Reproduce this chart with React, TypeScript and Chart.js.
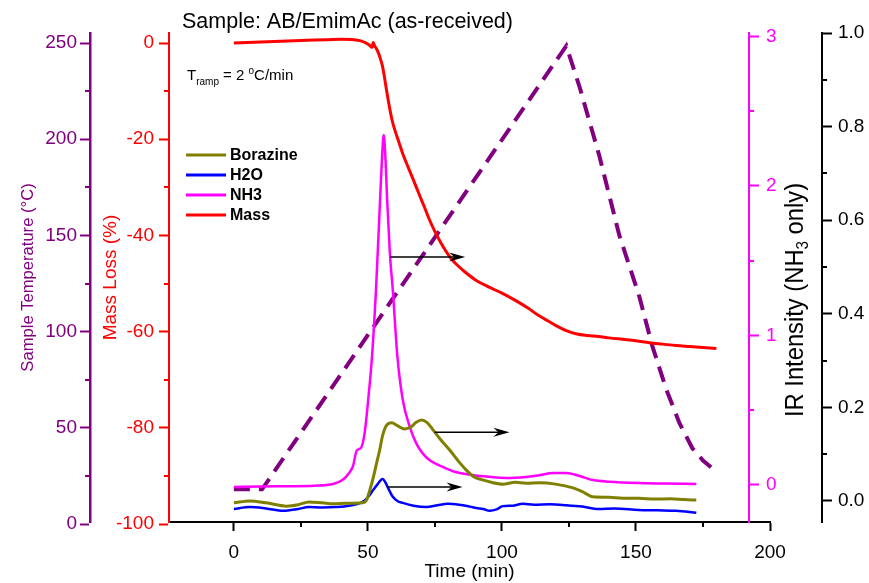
import React, { useEffect, useRef } from 'react';
import { Chart, registerables } from 'chart.js';

Chart.register(...registerables);

const FONT = '"Liberation Sans", Arial, Helvetica, sans-serif';

const PURPLE = '#800080';
const RED = '#ff0000';
const MAGENTA = '#ff00ff';
const OLIVE = '#808000';
const BLUE = '#0000ff';
const BLACK = '#000000';
const CLEAR = 'rgba(0,0,0,0)';

// ---- texts ----
const chartTitle = 'Sample: AB/EmimAc (as-received)';
const xTitle = 'Time (min)';
const tempTitle = 'Sample Temperature (°C)';
const massTitle = 'Mass Loss (%)';
const legendLabels = ['Borazine', 'H2O', 'NH3', 'Mass'];

// ---- tick lists ----
const xTicks = [0, 25, 50, 75, 100, 125, 150, 175, 200];
const tempTicks = [0, 25, 50, 75, 100, 125, 150, 175, 200, 225, 250];
const massTicks = [-100, -90, -80, -70, -60, -50, -40, -30, -20, -10, 0];
const nh3Ticks = [0, 0.5, 1, 1.5, 2, 2.5, 3];
const irTicks = [0, 0.1, 0.2, 0.3, 0.4, 0.5, 0.6, 0.7, 0.8, 0.9, 1.0];

// ---- Mass (%) ----
const massTime = [0, 5, 10, 15, 20, 25, 30, 35, 40, 44, 47, 49, 50.5, 51.5, 52, 52.5, 53.2, 54, 54.6, 55.3, 56, 57, 58, 59, 60, 61.5, 63, 65, 67, 69, 71, 73, 75, 77, 79, 81, 83, 86, 90, 95, 100, 105, 110, 113, 116, 120, 124, 128, 132, 136, 140, 145, 150, 155, 160, 165, 170, 175, 180];
const massValue = [0, 0.1, 0.2, 0.3, 0.4, 0.5, 0.6, 0.7, 0.8, 0.75, 0.5, 0.1, -0.4, -0.9, 0.1, -0.6, -1.2, -2.2, -3.2, -4.5, -6.5, -10, -13.2, -16, -18, -20.5, -23, -25.8, -28.5, -31.3, -34, -36.8, -39.2, -41.3, -43.2, -44.8, -46, -47.5, -49.2, -50.7, -52, -53.5, -55.2, -56.4, -57.4, -58.7, -59.8, -60.5, -60.8, -61, -61.3, -61.6, -61.9, -62.3, -62.6, -62.9, -63.1, -63.3, -63.5];

// ---- Sample temperature (°C) ----
const tempTime = [0, 10.5, 124, 129, 136.4, 143.8, 151.3, 156, 161.3, 166.2, 171, 175, 178];
const tempValue = [18, 18, 248.5, 227, 191, 150, 118, 93, 70, 52.5, 39.5, 33, 29.5];

// ---- NH3 IR intensity ----
const nh3Time = [0, 10, 20, 30, 37, 40.5, 43, 44.5, 45.8, 47.5, 48.8, 50, 51.5, 53, 54.4, 55.3, 55.9, 56.5, 57.2, 58.2, 59.3, 61, 63, 65.6, 68, 70.5, 73.5, 76.8, 82, 89, 95, 101.6, 109, 114, 119, 124, 129, 134, 140, 151, 160, 172.5];
const nh3Value = [-0.013, -0.01, -0.008, -0.005, 0.007, 0.033, 0.08, 0.13, 0.23, 0.25, 0.35, 0.55, 0.85, 1.3, 1.85, 2.2, 2.34, 2.2, 1.9, 1.55, 1.3, 0.86, 0.57, 0.39, 0.28, 0.21, 0.16, 0.13, 0.09, 0.067, 0.055, 0.047, 0.054, 0.065, 0.08, 0.08, 0.06, 0.033, 0.022, 0.013, 0.01, 0.007];

// ---- Borazine IR intensity ----
const borTime = [0, 6, 12, 19.7, 24, 28, 33, 37, 42, 48, 49.5, 50.7, 52, 53.2, 54.4, 55.5, 57, 58.9, 61, 63.7, 66, 68, 70, 72, 74.3, 77, 80.5, 83.5, 86.7, 89.5, 92.8, 96, 100.3, 105, 109, 114, 120, 126.5, 130, 133.8, 140, 145, 151, 157, 163, 168, 172.5];
const borValue = [-0.004, 0, -0.004, -0.011, -0.008, -0.002, -0.004, -0.006, -0.005, -0.004, 0.002, 0.023, 0.05, 0.08, 0.109, 0.14, 0.162, 0.167, 0.161, 0.154, 0.158, 0.168, 0.173, 0.168, 0.152, 0.132, 0.109, 0.087, 0.066, 0.052, 0.045, 0.04, 0.036, 0.04, 0.038, 0.039, 0.036, 0.028, 0.02, 0.009, 0.008, 0.006, 0.006, 0.004, 0.005, 0.003, 0.002];

// ---- H2O IR intensity ----
const h2oTime = [0, 6, 12, 18.4, 24, 28, 33, 38, 43, 48, 50, 51.9, 53.5, 55.5, 56.5, 57.5, 59.3, 61, 63, 67, 71.8, 76, 79.8, 84, 88, 90.5, 93, 95.4, 98, 100.3, 104, 107.7, 112, 118, 124, 130, 136, 142, 151, 158, 165, 172.5];
const h2oValue = [-0.017, -0.013, -0.016, -0.021, -0.017, -0.013, -0.014, -0.013, -0.01, -0.002, 0.008, 0.023, 0.035, 0.047, 0.04, 0.028, 0.009, 0.0, -0.004, -0.01, -0.013, -0.009, -0.006, -0.008, -0.012, -0.015, -0.017, -0.021, -0.018, -0.011, -0.01, -0.006, -0.008, -0.007, -0.009, -0.012, -0.017, -0.016, -0.019, -0.02, -0.021, -0.025];

// ---- arrows (axis pointers) ----
const arrowFrom = [58.4, 74.9, 57.4];
const arrowTo = [86.3, 102.8, 85.3];
const arrowLevel = [1.525, 0.147, 0.03];
const arrowAxis = ['yNH3', 'yIR', 'yIR'];

const xMinor = (v: number) => v % 50 !== 0;
const tMinor = (v: number) => v % 50 !== 0;
const mMinor = (v: number) => v % 20 !== 0;
const nMinor = (v: number) => !Number.isInteger(v);
const iMinor = (v: number) => Math.round(v * 10) % 2 !== 0;

const minorSpec: { id: string; list: number[]; isMinor: (v: number) => boolean; color: string }[] = [
  { id: 'x', list: xTicks, isMinor: xMinor, color: BLACK },
  { id: 'yTemp', list: tempTicks, isMinor: tMinor, color: PURPLE },
  { id: 'yMass', list: massTicks, isMinor: mMinor, color: RED },
  { id: 'yNH3', list: nh3Ticks, isMinor: nMinor, color: MAGENTA },
  { id: 'yIR', list: irTicks, isMinor: iMinor, color: BLACK },
];

const pts = (xs: number[], ys: number[]) => xs.map((x, i) => ({ x, y: ys[i] }));

const extendX = {
  id: 'extendX',
  afterLayout(chart: any) {
    const xs = chart.scales.x;
    xs.right = xs.right + 21;
    xs.width = xs.right - xs.left;
    xs.configure();
  },
};

// short (minor) tick marks, positioned by each scale
const minorTicks = {
  id: 'minorTicks',
  afterDraw(chart: any) {
    const { ctx } = chart;
    ctx.save();
    ctx.lineWidth = 2;
    ctx.setLineDash([]);
    minorSpec.forEach((spec) => {
      const s = chart.scales[spec.id];
      ctx.strokeStyle = spec.color;
      spec.list.filter(spec.isMinor).forEach((v) => {
        const p = Math.round(s.getPixelForValue(v));
        ctx.beginPath();
        if (spec.id === 'x') {
          ctx.moveTo(p, s.top);
          ctx.lineTo(p, s.top + 5);
        } else if (s.position === 'left') {
          ctx.moveTo(s.right - 5, p);
          ctx.lineTo(s.right, p);
        } else {
          ctx.moveTo(s.left, p);
          ctx.lineTo(s.left + 5, p);
        }
        ctx.stroke();
      });
    });
    ctx.restore();
  },
};

const decorations = {
  id: 'decorations',
  afterDraw(chart: any) {
    const { ctx } = chart;
    ctx.save();
    ctx.fillStyle = BLACK;
    ctx.textAlign = 'left';
    ctx.textBaseline = 'alphabetic';

    // chart title
    ctx.font = `21.5px ${FONT}`;
    ctx.fillText(chartTitle, 182, 28);

    // T_ramp annotation
    let x = 187;
    const by = 80;
    ctx.font = `15px ${FONT}`;
    ctx.fillText('T', x, by);
    x += ctx.measureText('T').width;
    ctx.font = `10px ${FONT}`;
    ctx.fillText('ramp', x, by + 5);
    x += ctx.measureText('ramp').width;
    ctx.font = `15px ${FONT}`;
    ctx.fillText(' = 2 ', x, by);
    x += ctx.measureText(' = 2 ').width;
    ctx.font = `10px ${FONT}`;
    ctx.fillText('o', x, by - 6);
    x += ctx.measureText('o').width;
    ctx.font = `15px ${FONT}`;
    ctx.fillText('C/min', x, by);

    // legend
    legendLabels.forEach((label, i) => {
      const ds = chart.data.datasets.find((d: any) => d.label === label);
      const y = 155 + i * 20;
      ctx.strokeStyle = ds ? ds.borderColor : BLACK;
      ctx.lineWidth = 3;
      ctx.setLineDash([]);
      ctx.beginPath();
      ctx.moveTo(186, y);
      ctx.lineTo(226, y);
      ctx.stroke();
      ctx.font = `bold 16px ${FONT}`;
      ctx.textBaseline = 'middle';
      ctx.fillStyle = BLACK;
      ctx.fillText(label, 230, y + 1);
    });

    // arrows
    const xs = chart.scales.x;
    arrowFrom.forEach((t0, i) => {
      const ys = chart.scales[arrowAxis[i]];
      const x0 = xs.getPixelForValue(t0);
      const x1 = xs.getPixelForValue(arrowTo[i]);
      const y = ys.getPixelForValue(arrowLevel[i]);
      ctx.strokeStyle = BLACK;
      ctx.fillStyle = BLACK;
      ctx.lineWidth = 1.6;
      ctx.beginPath();
      ctx.moveTo(x0, y);
      ctx.lineTo(x1 - 8, y);
      ctx.stroke();
      ctx.beginPath();
      ctx.moveTo(x1, y);
      ctx.lineTo(x1 - 16, y - 4.5);
      ctx.lineTo(x1 - 11, y);
      ctx.lineTo(x1 - 16, y + 4.5);
      ctx.closePath();
      ctx.fill();
    });

    // right axis title (rotated, with subscript)
    ctx.translate(794, 300);
    ctx.rotate(-Math.PI / 2);
    ctx.scale(0.95, 1);
    ctx.fillStyle = BLACK;
    ctx.textBaseline = 'alphabetic';
    const big = `25px ${FONT}`;
    const small = `16px ${FONT}`;
    const p1 = 'IR Intensity (NH';
    const p2 = '3';
    const p3 = ' only)';
    ctx.font = big;
    const w1 = ctx.measureText(p1).width;
    const w3 = ctx.measureText(p3).width;
    ctx.font = small;
    const w2 = ctx.measureText(p2).width;
    let tx = -(w1 + w2 + w3) / 2;
    ctx.font = big;
    ctx.fillText(p1, tx, 9);
    tx += w1;
    ctx.font = small;
    ctx.fillText(p2, tx, 14);
    tx += w2;
    ctx.font = big;
    ctx.fillText(p3, tx, 9);
    ctx.restore();
  },
};

const setTicks = (list: number[]) => (scale: any) => {
  scale.ticks = list.map((v) => ({ value: v }));
};

const majorColor = (isMinor: (v: number) => boolean, color: string) => (c: any) =>
  c.tick && isMinor(c.tick.value) ? CLEAR : color;

export default function App() {
  const canvasRef = useRef<HTMLCanvasElement | null>(null);

  useEffect(() => {
    const canvas = canvasRef.current;
    if (!canvas) return;

    const chart = new Chart(canvas, {
      type: 'line',
      data: {
        datasets: [
          {
            label: 'Borazine',
            data: pts(borTime, borValue),
            borderColor: OLIVE,
            backgroundColor: OLIVE,
            borderWidth: 3,
            pointRadius: 0,
            cubicInterpolationMode: 'monotone',
            yAxisID: 'yIR',
          },
          {
            label: 'H2O',
            data: pts(h2oTime, h2oValue),
            borderColor: BLUE,
            backgroundColor: BLUE,
            borderWidth: 2.5,
            pointRadius: 0,
            cubicInterpolationMode: 'monotone',
            yAxisID: 'yIR',
          },
          {
            label: 'NH3',
            data: pts(nh3Time, nh3Value),
            borderColor: MAGENTA,
            backgroundColor: MAGENTA,
            borderWidth: 2.5,
            pointRadius: 0,
            cubicInterpolationMode: 'monotone',
            yAxisID: 'yNH3',
          },
          {
            label: 'Mass',
            data: pts(massTime, massValue),
            borderColor: RED,
            backgroundColor: RED,
            borderWidth: 3,
            pointRadius: 0,
            cubicInterpolationMode: 'monotone',
            yAxisID: 'yMass',
          },
          {
            label: 'Temperature',
            data: pts(tempTime, tempValue),
            borderColor: PURPLE,
            backgroundColor: PURPLE,
            borderWidth: 4,
            borderDash: [16, 9],
            pointRadius: 0,
            tension: 0,
            yAxisID: 'yTemp',
          },
        ],
      },
      options: {
        responsive: false,
        animation: false,
        devicePixelRatio: 1,
        events: [],
        layout: { padding: { top: 33, left: 0, right: 0, bottom: 0 } },
        plugins: {
          legend: { display: false },
          title: { display: false },
          tooltip: { enabled: false },
        },
        scales: {
          x: {
            type: 'linear',
            position: 'bottom',
            min: -24.2,
            max: 200,
            afterFit: (s: any) => {
              s.height = 61;
            },
            afterBuildTicks: setTicks(xTicks),
            grid: {
              drawOnChartArea: false,
              drawTicks: true,
              tickLength: 9,
              tickColor: majorColor(xMinor, BLACK),
              tickWidth: 2,
            },
            border: { display: true, color: BLACK, width: 2 },
            ticks: {
              color: BLACK,
              font: { family: FONT, size: 19 },
              padding: 10,
              autoSkip: false,
              maxRotation: 0,
              callback: (v: any) => (xMinor(Number(v)) ? '' : String(v)),
            },
            title: {
              display: true,
              text: xTitle,
              color: BLACK,
              font: { family: FONT, size: 19 },
              padding: { top: 0, bottom: 0 },
            },
          },
          yTemp: {
            type: 'linear',
            position: 'left',
            weight: 2,
            min: 1.04,
            max: 255.2,
            afterFit: (s: any) => {
              s.width = 90;
            },
            afterBuildTicks: setTicks(tempTicks),
            grid: {
              drawOnChartArea: false,
              tickLength: 10,
              tickColor: majorColor(tMinor, PURPLE),
              tickWidth: 2,
            },
            border: { display: true, color: PURPLE, width: 2.5 },
            ticks: {
              color: PURPLE,
              font: { family: FONT, size: 19 },
              padding: 3,
              autoSkip: false,
              callback: (v: any) => (tMinor(Number(v)) ? '' : String(v)),
            },
            title: {
              display: true,
              text: tempTitle,
              color: PURPLE,
              font: { family: FONT, size: 16.6 },
              padding: { top: 18, bottom: 0 },
            },
          },
          yMass: {
            type: 'linear',
            position: 'left',
            weight: 1,
            min: -99.58,
            max: 2.08,
            afterFit: (s: any) => {
              s.width = 79;
            },
            afterBuildTicks: setTicks(massTicks),
            grid: {
              drawOnChartArea: false,
              tickLength: 10,
              tickColor: majorColor(mMinor, RED),
              tickWidth: 2,
            },
            border: { display: true, color: RED, width: 2 },
            ticks: {
              color: RED,
              font: { family: FONT, size: 19 },
              padding: 5,
              autoSkip: false,
              callback: (v: any) => (mMinor(Number(v)) ? '' : String(v)),
            },
            title: {
              display: true,
              text: massTitle,
              color: RED,
              font: { family: FONT, size: 19 },
              padding: { top: 9, bottom: 0 },
            },
          },
          yNH3: {
            type: 'linear',
            position: 'right',
            weight: 1,
            min: -0.2475,
            max: 3.023,
            afterFit: (s: any) => {
              s.width = 73;
            },
            afterBuildTicks: setTicks(nh3Ticks),
            grid: {
              drawOnChartArea: false,
              tickLength: 10,
              tickColor: majorColor(nMinor, MAGENTA),
              tickWidth: 2,
            },
            border: { display: true, color: MAGENTA, width: 2 },
            ticks: {
              color: MAGENTA,
              font: { family: FONT, size: 19 },
              padding: 7,
              autoSkip: false,
              callback: (v: any) => (nMinor(Number(v)) ? '' : String(v)),
            },
            title: { display: false },
          },
          yIR: {
            type: 'linear',
            position: 'right',
            weight: 2,
            min: -0.0449,
            max: 1.0,
            afterFit: (s: any) => {
              s.width = 47;
            },
            afterBuildTicks: setTicks(irTicks),
            grid: {
              drawOnChartArea: false,
              tickLength: 10,
              tickColor: majorColor(iMinor, BLACK),
              tickWidth: 2,
            },
            border: { display: true, color: BLACK, width: 2 },
            ticks: {
              color: BLACK,
              font: { family: FONT, size: 19 },
              padding: 6,
              autoSkip: false,
              callback: (v: any) => (iMinor(Number(v)) ? '' : Number(v).toFixed(1)),
            },
            title: { display: false },
          },
        },
      } as any,
      plugins: [extendX, minorTicks, decorations],
    });

    return () => chart.destroy();
  }, []);

  return (
    <div style={{ position: 'fixed', left: 0, top: 0, width: 869, height: 583, background: '#fff' }}>
      <canvas ref={canvasRef} width={869} height={583} style={{ display: 'block', width: 869, height: 583 }} />
    </div>
  );
}
